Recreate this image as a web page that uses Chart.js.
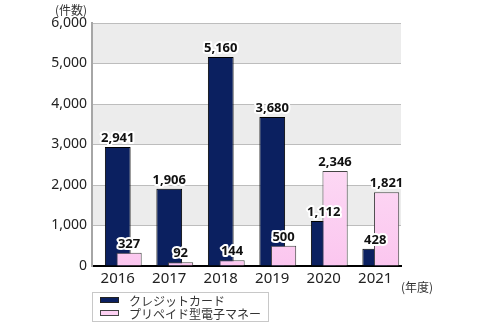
<!DOCTYPE html>
<html>
<head>
<meta charset="utf-8">
<script src="https://cdn.jsdelivr.net/npm/chart.js@4"></script>
<style>
  body { margin: 0; background: #fff; }
  #wrap { position: relative; width: 495px; height: 330px; }
  .note { position: absolute; font-family: "Noto Sans CJK JP", sans-serif; font-size: 12px; color: #333; line-height: 14px; }
  #legend { position: absolute; left: 92px; top: 292px; width: 175px; height: 28px; border: 1px solid #c8c8c8;
            font-family: "Noto Sans CJK JP", sans-serif; font-size: 12px; color: #333; }
  #legend div { position: absolute; left: 7px; height: 14px; line-height: 13px; }
  #legend span.sw { display: inline-block; width: 17px; height: 4px; border: 1px solid #222; margin-right: 10px; vertical-align: 3px; }
</style>
</head>
<body>
<div id="wrap">
  <canvas id="chart" width="495" height="330"></canvas>
  <div class="note" style="left:55px; top:3px;">(件数)</div>
  <div class="note" style="left:401px; top:280px;">(年度)</div>
  <div id="legend">
    <div style="top:1px;"><span class="sw" style="background:#0b2060;"></span>クレジットカード</div>
    <div style="top:14px;"><span class="sw" style="background:#fcd0f2;border-color:#444;"></span>プリペイド型電子マネー</div>
  </div>
</div>
<script>
// 年度
const years = ['2016', '2017', '2018', '2019', '2020', '2021'];
// クレジットカード
const creditCard = [2941, 1906, 5160, 3680, 1112, 428];
// プリペイド型電子マネー
const prepaid = [327, 92, 144, 500, 2346, 1821];
// 目盛り
const yTicks = [0, 1000, 2000, 3000, 4000, 5000, 6000];

// 背景の縞模様
const bandPlugin = {
    id: 'bands',
    beforeDraw(chart) {
        const { ctx, chartArea, scales } = chart;
        const y = scales.y;
        ctx.save();
        ctx.fillStyle = '#ececec';
        for (let i = 0; i < yTicks.length - 1; i++) {
            if (i % 2 === 1) {
                const top = y.getPixelForValue(yTicks[i + 1]);
                const bottom = y.getPixelForValue(yTicks[i]);
                ctx.fillRect(chartArea.left, top, chartArea.right - chartArea.left, bottom - top);
            }
        }
        ctx.restore();
    }
};

// 数値ラベル
const valueLabels = {
    id: 'valueLabels',
    afterDatasetsDraw(chart) {
        const ctx = chart.ctx;
        ctx.save();
        ctx.font = 'bold 13px "Noto Sans", sans-serif';
        ctx.textAlign = 'center';
        ctx.textBaseline = 'bottom';
        ctx.lineJoin = 'round';
        chart.data.datasets.forEach((ds, di) => {
            const meta = chart.getDatasetMeta(di);
            meta.data.forEach((bar, i) => {
                const v = ds.data[i].y !== undefined ? ds.data[i].y : ds.data[i];
                const label = Number(v).toLocaleString('en-US');
                ctx.strokeStyle = '#fff';
                ctx.lineWidth = 4;
                ctx.strokeText(label, bar.x, bar.y - 2);
                ctx.fillStyle = '#111';
                ctx.fillText(label, bar.x, bar.y - 2);
            });
        });
        ctx.restore();
    }
};

const ctx = document.getElementById('chart').getContext('2d');

function pinkFill(context) {
    const area = context.chart.chartArea;
    if (!area) return '#fcd0f2';
    const g = context.chart.ctx.createLinearGradient(0, area.top, 0, area.bottom);
    g.addColorStop(0, '#fff4fc');
    g.addColorStop(1, '#fbc6ef');
    return g;
}

const chart = new Chart(ctx, {
    type: 'bar',
    data: {
        labels: years,
        datasets: [{
            label: 'クレジットカード',
            data: creditCard,
            backgroundColor: '#0b2060',
            borderColor: '#000',
            borderWidth: 1,
            grouped: false,
            categoryPercentage: 1,
            barPercentage: 0.5,
            xAxisID: 'x',
            order: 1
        }, {
            label: 'プリペイド型電子マネー',
            data: prepaid.map((v, i) => ({ x: i, y: v })),
            backgroundColor: pinkFill,
            borderColor: '#444',
            borderWidth: 1,
            grouped: false,
            categoryPercentage: 1,
            barPercentage: 0.49,
            xAxisID: 'x2',
            order: 0
        }]
    },
    options: {
        responsive: false,
        animation: false,
        layout: { padding: { left: 0, right: 94, top: 23, bottom: 0 } },
        plugins: {
            legend: { display: false },
            tooltip: { enabled: false }
        },
        scales: {
            x: {
                type: 'category',
                grid: { display: false, drawTicks: false },
                border: { color: '#000', width: 2 },
                ticks: { color: '#222', padding: 4, font: { family: '"Noto Sans", sans-serif', size: 15 } },
                afterFit(scale) { scale.height = 64; }
            },
            x2: {
                type: 'linear',
                display: false,
                min: -0.72,
                max: 5.28,
                offset: false
            },
            y: {
                min: 0,
                max: 6000,
                ticks: {
                    stepSize: 1000,
                    color: '#222',
                    padding: 5,
                    font: { family: '"Noto Sans", sans-serif', size: 14 },
                    callback: v => v.toLocaleString('en-US')
                },
                grid: { color: '#bdbdbd', drawTicks: false },
                border: { color: '#a6a6a6', width: 2 },
                afterFit(scale) { scale.width = 92; }
            }
        }
    },
    plugins: [bandPlugin, valueLabels]
});
</script>
</body>
</html>
